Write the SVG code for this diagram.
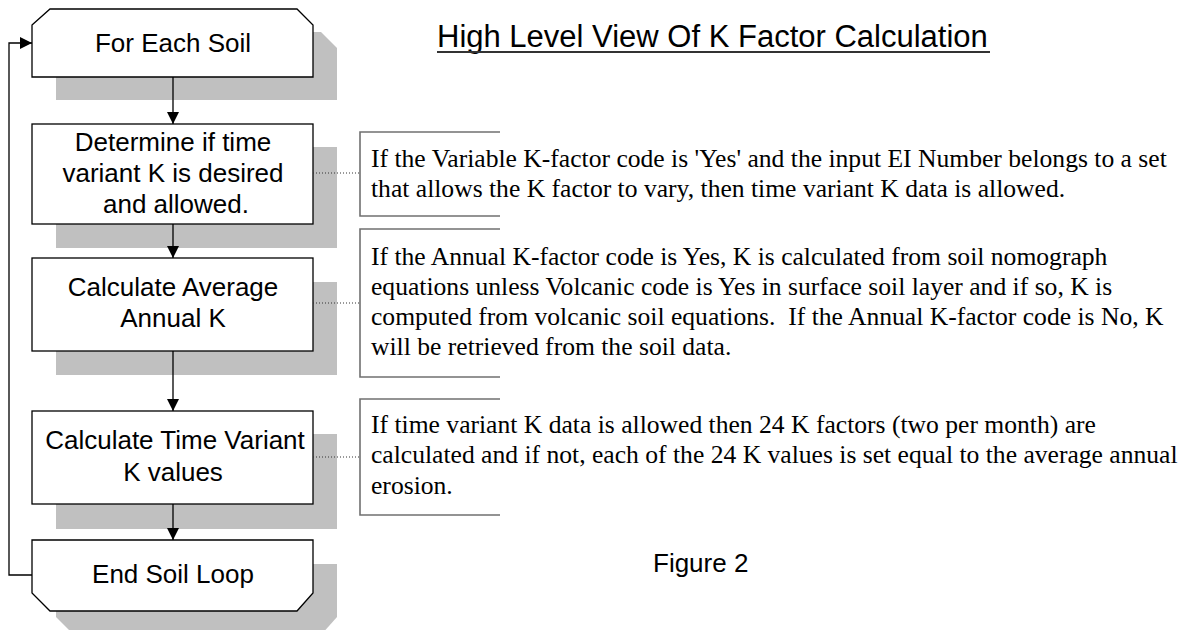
<svg xmlns="http://www.w3.org/2000/svg" width="1184" height="630" viewBox="0 0 1184 630">
<style>
.shadow{fill:#c0c0c0;stroke:none}
.box{fill:#fff;stroke:#000;stroke-width:1.3}
.lbl{font-family:"Liberation Sans",Arial,sans-serif;font-size:26px;fill:#000;text-anchor:middle}
.note{font-family:"Liberation Serif","Times New Roman",serif;font-size:25.6px;fill:#000}
.br{fill:none;stroke:#707070;stroke-width:1.6}
.flow{fill:none;stroke:#000;stroke-width:1.3}
.dot{fill:none;stroke:#333;stroke-width:1;stroke-dasharray:1 2}
.title{font-family:"Liberation Sans",Arial,sans-serif;font-size:31px;fill:#000}
.fig{font-family:"Liberation Sans",Arial,sans-serif;font-size:26px;fill:#000}
</style>
<defs>
<marker id="ah" viewBox="0 0 12 12" refX="12" refY="6" markerWidth="12" markerHeight="12" markerUnits="userSpaceOnUse" orient="auto">
<path d="M0,0 L12,6 L0,12 Z" fill="#000"/>
</marker>
</defs>
<rect width="1184" height="630" fill="#fff"/>

<g id="title">
<text class="title" x="437" y="47">High Level View Of K Factor Calculation</text>
<line x1="437" y1="52" x2="990" y2="52" stroke="#333" stroke-width="2"/>
</g>

<g id="node-for-each-soil">
<path class="shadow" d="M56,48 L74,32 L321,32 L337,48 L337,100 L56,100 Z"/>
<path class="box" d="M32,25 L50,9 L297,9 L313,25 L313,77 L32,77 Z"/>
<text class="lbl" x="173" y="52">For Each Soil</text>
</g>

<g id="node-determine">
<rect class="shadow" x="56" y="147" width="281" height="101"/>
<rect class="box" x="32" y="124" width="281" height="100"/>
<text class="lbl" x="173" y="151">Determine if time</text>
<text class="lbl" x="173" y="182">variant K is desired</text>
<text class="lbl" x="176" y="213">and allowed.</text>
</g>

<g id="node-average">
<rect class="shadow" x="56" y="282" width="281" height="93"/>
<rect class="box" x="32" y="258" width="281" height="93"/>
<text class="lbl" x="173" y="296">Calculate Average</text>
<text class="lbl" x="173" y="327">Annual K</text>
</g>

<g id="node-time-variant">
<rect class="shadow" x="56" y="434" width="281" height="95"/>
<rect class="box" x="32" y="411" width="281" height="93"/>
<text class="lbl" x="175" y="449">Calculate Time Variant</text>
<text class="lbl" x="173" y="481">K values</text>
</g>

<g id="node-end-loop">
<path class="shadow" d="M56,564 L337,564 L337,617 L321,635 L74,635 L56,617 Z"/>
<path class="box" d="M32,540 L313,540 L313,593 L297,611 L50,611 L32,593 Z"/>
<text class="lbl" x="173" y="583">End Soil Loop</text>
</g>

<g id="note-1">
<path class="br" d="M500,132 H360 V216 H500"/>
<text class="note" x="371" y="167">If the Variable K-factor code is 'Yes' and the input EI Number belongs to a set</text>
<text class="note" x="371" y="197">that allows the K factor to vary, then time variant K data is allowed.</text>
</g>

<g id="note-2">
<path class="br" d="M500,229 H360 V377 H500"/>
<text class="note" x="371" y="265">If the Annual K-factor code is Yes, K is calculated from soil nomograph</text>
<text class="note" x="371" y="295">equations unless Volcanic code is Yes in surface soil layer and if so, K is</text>
<text class="note" x="371" y="325" xml:space="preserve">computed from volcanic soil equations.  If the Annual K-factor code is No, K</text>
<text class="note" x="371" y="355">will be retrieved from the soil data.</text>
</g>

<g id="note-3">
<path class="br" d="M500,399 H360 V515 H500"/>
<text class="note" x="371" y="433">If time variant K data is allowed then 24 K factors (two per month) are</text>
<text class="note" x="371" y="463">calculated and if not, each of the 24 K values is set equal to the average annual</text>
<text class="note" x="371" y="494">erosion.</text>
</g>

<g id="figure-label">
<text class="fig" x="653" y="572">Figure 2</text>
</g>

<g id="connectors">
<line class="flow" x1="173" y1="77" x2="173" y2="124" marker-end="url(#ah)"/>
<line class="flow" x1="173" y1="224" x2="173" y2="258" marker-end="url(#ah)"/>
<line class="flow" x1="173" y1="351" x2="173" y2="411" marker-end="url(#ah)"/>
<line class="flow" x1="173" y1="504" x2="173" y2="540" marker-end="url(#ah)"/>
<path class="flow" d="M32,575 H9 V43 H32" marker-end="url(#ah)"/>
<line class="dot" x1="313" y1="173" x2="360" y2="173"/>
<line class="dot" x1="313" y1="303" x2="360" y2="303"/>
<line class="dot" x1="313" y1="457" x2="360" y2="457"/>
</g>
</svg>
